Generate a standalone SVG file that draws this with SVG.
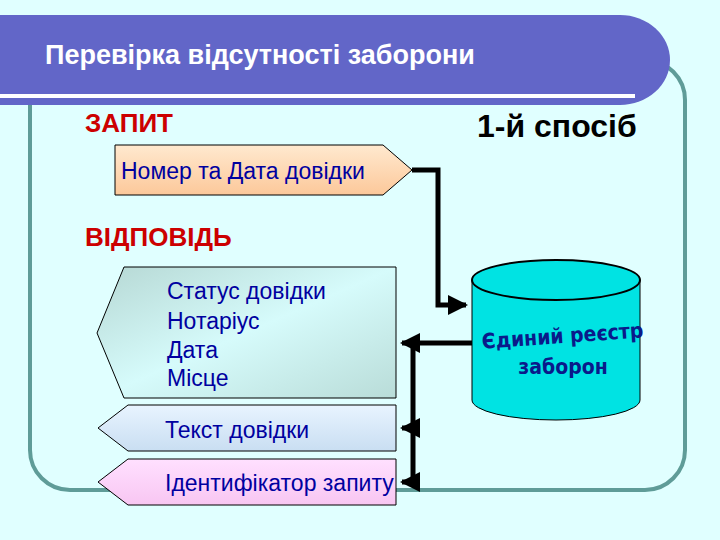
<svg xmlns="http://www.w3.org/2000/svg" width="720" height="540" viewBox="0 0 720 540">
<defs>
<linearGradient id="gPeach" x1="0" y1="0" x2="0" y2="1"><stop offset="0" stop-color="#ffe9cf"/><stop offset="1" stop-color="#fcc89a"/></linearGradient>
<linearGradient id="gStat" x1="0" y1="0" x2="1" y2="1"><stop offset="0" stop-color="#b6d8d4"/><stop offset="0.5" stop-color="#d6fbfb"/><stop offset="1" stop-color="#b9dcd8"/></linearGradient>
<linearGradient id="gText" x1="0" y1="0" x2="0" y2="1"><stop offset="0" stop-color="#e8f4ff"/><stop offset="1" stop-color="#c9def2"/></linearGradient>
<linearGradient id="gId" x1="0" y1="0" x2="0" y2="1"><stop offset="0" stop-color="#ffe0ff"/><stop offset="1" stop-color="#f8c6f2"/></linearGradient>
<marker id="ah" viewBox="0 0 10 10" refX="9" refY="5" markerWidth="4" markerHeight="4" orient="auto"><path d="M0,0L10,5L0,10z" fill="#000"/></marker>
</defs>
<style>
.node{stroke:#000;stroke-width:1}
.t{font-family:"Liberation Sans",Arial,sans-serif;fill:#0000a0;font-size:23px}
.red{font-family:"Liberation Sans",Arial,sans-serif;fill:#cc0000;font-size:26px;font-weight:bold}
.c{fill:none;stroke:#000;stroke-width:5}
</style>
<rect width="720" height="540" fill="#e0ffff"/>
<rect x="30" y="60" width="655" height="430" rx="40" fill="none" stroke="#5f9c98" stroke-width="4"/>
<path d="M0,15 H620 A50,45 0 0 1 620,105 H0 Z" fill="#6266c8"/>
<rect x="0" y="94" width="635" height="4" fill="#ffffff"/>
<text x="45" y="64" font-family="Liberation Sans,Arial,sans-serif" font-size="27" font-weight="bold" fill="#fff">Перевірка відсутності заборони</text>
<text x="85" y="132" class="red">ЗАПИТ</text>
<text x="477" y="137" font-family="Liberation Sans,Arial,sans-serif" font-size="32" font-weight="bold" fill="#000">1-й спосіб</text>
<text x="85" y="246" class="red">ВІДПОВІДЬ</text>
<g id="connectors">
<path class="c" d="M412,170 H438 V305 H466" marker-end="url(#ah)"/>
<path class="c" d="M472,343 H402" marker-end="url(#ah)"/>
<path class="c" d="M413,343 V482 H402" marker-end="url(#ah)"/>
<path class="c" d="M413,428 H402" marker-end="url(#ah)"/>
</g>
<g id="n-request"><path class="node" d="M115,145 H383 L412,170 L383,195 H115 Z" fill="url(#gPeach)"/><text x="121" y="179" class="t">Номер та Дата довідки</text></g>
<g id="n-status"><path class="node" d="M124,267 H396 V398 H124 L97,333 Z" fill="url(#gStat)"/>
<text class="t" x="167" y="299">Статус довідки</text><text class="t" x="167" y="329">Нотаріус</text><text class="t" x="167" y="358">Дата</text><text class="t" x="167" y="386">Місце</text></g>
<g id="n-text"><path class="node" d="M128,405 H396 V451 H128 L98,428 Z" fill="url(#gText)"/><text class="t" x="165" y="438">Текст довідки</text></g>
<g id="n-id"><path class="node" d="M128,459 H396 V505 H128 L98,482 Z" fill="url(#gId)"/><text class="t" x="165" y="491">Ідентифікатор запиту</text></g>
<g id="n-db"><path class="node" d="M472,280 V400 A84,20 0 0 0 640,400 V280" fill="#00e3e3" stroke-width="2"/>
<ellipse cx="556" cy="280" rx="84" ry="20" fill="#00e3e3" stroke="#000" stroke-width="2"/>
<text x="563" y="343" text-anchor="middle" font-family="DejaVu Sans Condensed,Liberation Sans,sans-serif" font-weight="bold" font-size="21" fill="#0a1a8a" transform="rotate(-4 563 343)">Єдиний реєстр</text>
<text x="563" y="374" text-anchor="middle" font-family="DejaVu Sans Condensed,Liberation Sans,sans-serif" font-weight="bold" font-size="21" fill="#0a1a8a">заборон</text></g>
</svg>
